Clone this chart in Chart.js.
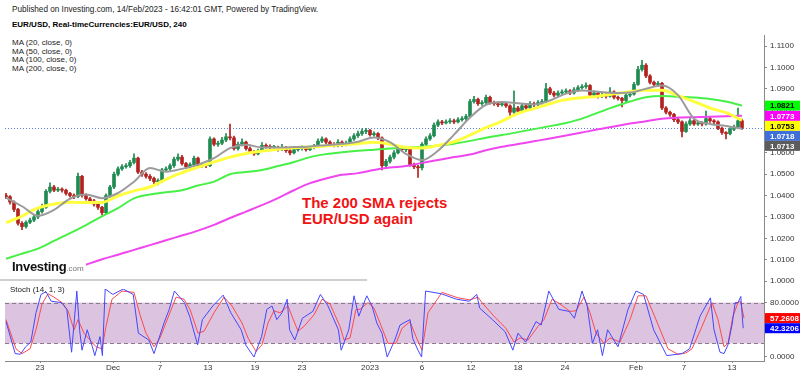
<!DOCTYPE html>
<html>
<head>
<meta charset="utf-8">
<script src="https://cdn.jsdelivr.net/npm/chart.js@4.4.1/dist/chart.umd.min.js"></script>
<style>
body{margin:0;background:#fff;width:800px;height:376px;overflow:hidden;position:relative;font-family:"Liberation Sans",Arial,sans-serif}
canvas{position:absolute;left:0;top:0}
.t{position:absolute;white-space:nowrap;color:#222}
</style>
</head>
<body>
<div class="t" style="left:12px;top:5px;font-size:8.2px">Published on Investing.com, 14/Feb/2023 - 16:42:01 GMT, Powered by TradingView.</div>
<div class="t" style="left:12px;top:20px;font-size:8px;font-weight:bold;color:#000">EUR/USD, Real-timeCurrencies:EUR/USD, 240</div>
<div class="t" style="left:12px;top:39px;font-size:8px;line-height:8.5px">MA (20, close, 0)<br>MA (50, close, 0)<br>MA (100, close, 0)<br>MA (200, close, 0)</div>
<div class="t" style="left:302px;top:195px;font-size:15px;line-height:16px;font-weight:bold;color:#f01414">The 200 SMA rejects<br>EUR/USD again</div>
<div style="position:absolute;left:0;top:279px;width:367px;height:2px;background:#cfcfcf"></div>
<canvas id="price" width="800" height="376"></canvas>
<canvas id="stoch" width="800" height="376"></canvas>
<div class="t" style="left:12px;top:259px;font-size:13px;font-weight:bold;color:#111;letter-spacing:-0.3px">Investing<span style="font-size:8px;font-weight:normal;color:#777;letter-spacing:0">.com</span></div>
<div class="t" style="left:10px;top:285px;font-size:8px">Stoch (14, 1, 3)</div>
<script>
// 4h EUR/USD, one candle per 8 hours (index = candle number)
const firstOpen = 1.0400;
const closes = [1.0395,1.0370,1.0335,1.0270,1.0255,1.0275,1.0285,1.0300,1.0325,1.0345,
1.0420,1.0440,1.0425,1.0430,1.0425,1.0410,1.0400,1.0395,1.0490,1.0400,
1.0385,1.0375,1.0360,1.0345,1.0320,1.0400,1.0440,1.0500,1.0525,1.0535,
1.0540,1.0555,1.0575,1.0510,1.0500,1.0490,1.0480,1.0465,1.0470,1.0520,
1.0525,1.0540,1.0570,1.0580,1.0550,1.0535,1.0545,1.0575,1.0540,1.0545,
1.0540,1.0665,1.0640,1.0645,1.0660,1.0675,1.0670,1.0620,1.0640,1.0650,
1.0620,1.0605,1.0595,1.0610,1.0635,1.0630,1.0625,1.0625,1.0615,1.0625,
1.0610,1.0600,1.0615,1.0620,1.0625,1.0615,1.0625,1.0630,1.0655,1.0665,
1.0650,1.0640,1.0635,1.0650,1.0640,1.0645,1.0665,1.0680,1.0690,1.0700,
1.0705,1.0685,1.0690,1.0670,1.0540,1.0560,1.0580,1.0600,1.0625,1.0615,
1.0620,1.0545,1.0535,1.0530,1.0640,1.0665,1.0680,1.0730,1.0745,1.0740,
1.0745,1.0750,1.0745,1.0755,1.0760,1.0770,1.0840,1.0850,1.0830,1.0835,
1.0860,1.0835,1.0830,1.0825,1.0830,1.0820,1.0790,1.0810,1.0795,1.0820,
1.0810,1.0830,1.0825,1.0835,1.0840,1.0900,1.0880,1.0870,1.0880,1.0885,
1.0890,1.0880,1.0895,1.0905,1.0910,1.0915,1.0870,1.0880,1.0865,1.0870,
1.0865,1.0885,1.0860,1.0855,1.0845,1.0870,1.0875,1.0920,1.0990,1.1010,
1.0960,1.0930,1.0920,1.0925,1.0810,1.0790,1.0780,1.0755,1.0745,1.0700,
1.0735,1.0750,1.0735,1.0740,1.0735,1.0760,1.0750,1.0745,1.0715,1.0695,
1.0690,1.0710,1.0720,1.0750,1.0718];
const highs = [1.0410,1.0400,1.0375,1.0340,1.0278,1.0282,1.0295,1.0310,1.0335,1.0360,
1.0428,1.0460,1.0448,1.0438,1.0436,1.0430,1.0415,1.0408,1.0505,1.0495,
1.0408,1.0392,1.0382,1.0368,1.0350,1.0408,1.0448,1.0510,1.0535,1.0545,
1.0550,1.0565,1.0595,1.0580,1.0518,1.0508,1.0498,1.0486,1.0478,1.0528,
1.0535,1.0548,1.0580,1.0595,1.0588,1.0556,1.0553,1.0585,1.0580,1.0553,
1.0550,1.0675,1.0670,1.0655,1.0672,1.0690,1.0735,1.0678,1.0650,1.0665,
1.0655,1.0628,1.0612,1.0618,1.0648,1.0642,1.0638,1.0635,1.0632,1.0640,
1.0630,1.0616,1.0622,1.0628,1.0633,1.0630,1.0632,1.0640,1.0665,1.0675,
1.0670,1.0656,1.0648,1.0662,1.0656,1.0655,1.0675,1.0690,1.0702,1.0712,
1.0715,1.0710,1.0698,1.0695,1.0675,1.0570,1.0590,1.0610,1.0635,1.0632,
1.0630,1.0625,1.0552,1.0542,1.0648,1.0675,1.0690,1.0740,1.0755,1.0752,
1.0755,1.0760,1.0758,1.0765,1.0770,1.0780,1.0850,1.0865,1.0856,1.0845,
1.0870,1.0866,1.0842,1.0838,1.0840,1.0836,1.0825,1.0890,1.0818,1.0830,
1.0828,1.0840,1.0838,1.0845,1.0850,1.0925,1.0908,1.0888,1.0890,1.0895,
1.0900,1.0896,1.0905,1.0915,1.0920,1.0928,1.0920,1.0890,1.0886,1.0880,
1.0878,1.0905,1.0890,1.0866,1.0860,1.0878,1.0885,1.0930,1.1005,1.1033,
1.1018,1.0966,1.0936,1.0935,1.0930,1.0816,1.0796,1.0785,1.0762,1.0750,
1.0745,1.0760,1.0756,1.0748,1.0746,1.0795,1.0768,1.0756,1.0750,1.0720,
1.0700,1.0718,1.0730,1.0810,1.0758];
const lows = [1.0385,1.0360,1.0325,1.0262,1.0240,1.0248,1.0268,1.0278,1.0292,1.0318,
1.0340,1.0412,1.0418,1.0418,1.0416,1.0402,1.0392,1.0385,1.0390,1.0392,
1.0378,1.0365,1.0350,1.0335,1.0310,1.0315,1.0392,1.0432,1.0492,1.0518,
1.0528,1.0532,1.0548,1.0502,1.0490,1.0482,1.0470,1.0456,1.0450,1.0462,
1.0512,1.0518,1.0532,1.0562,1.0542,1.0526,1.0528,1.0538,1.0532,1.0532,
1.0530,1.0535,1.0632,1.0630,1.0638,1.0652,1.0660,1.0612,1.0612,1.0632,
1.0612,1.0598,1.0588,1.0590,1.0605,1.0622,1.0618,1.0616,1.0608,1.0610,
1.0602,1.0590,1.0595,1.0608,1.0612,1.0608,1.0610,1.0618,1.0625,1.0648,
1.0642,1.0632,1.0628,1.0628,1.0630,1.0632,1.0640,1.0658,1.0672,1.0682,
1.0690,1.0678,1.0678,1.0662,1.0520,1.0530,1.0552,1.0572,1.0595,1.0606,
1.0606,1.0538,1.0526,1.0485,1.0520,1.0635,1.0658,1.0675,1.0722,1.0732,
1.0735,1.0738,1.0736,1.0740,1.0748,1.0752,1.0765,1.0832,1.0822,1.0822,
1.0828,1.0828,1.0822,1.0816,1.0818,1.0812,1.0775,1.0785,1.0786,1.0790,
1.0802,1.0805,1.0816,1.0818,1.0828,1.0835,1.0872,1.0862,1.0862,1.0872,
1.0878,1.0872,1.0875,1.0888,1.0898,1.0902,1.0862,1.0862,1.0856,1.0858,
1.0856,1.0860,1.0852,1.0846,1.0815,1.0840,1.0862,1.0870,1.0915,1.0982,
1.0952,1.0922,1.0912,1.0912,1.0802,1.0782,1.0770,1.0746,1.0736,1.0675,
1.0695,1.0728,1.0728,1.0728,1.0726,1.0730,1.0742,1.0736,1.0708,1.0686,
1.0665,1.0684,1.0704,1.0715,1.0710];

// moving averages read at every 4th candle
const maIdx = [0,4,8,12,16,20,24,28,32,36,40,44,48,52,56,60,64,68,72,76,80,84,88,92,96,100,
104,108,112,116,120,124,128,132,136,140,144,148,152,156,160,164,168,172,176,180,184];
const ma20 = [1.0390,1.0350,1.0305,1.0333,1.0385,1.0405,1.0388,1.0412,1.0465,1.0529,1.0512,1.0525,
1.0545,1.0575,1.0622,1.0638,1.0625,1.0625,1.0627,1.0630,1.0636,1.0642,1.0652,1.0672,1.0650,1.0595,
1.0566,1.0610,1.0685,1.0765,1.0825,1.0838,1.0832,1.0826,1.0845,1.0877,1.0892,1.0886,1.0880,1.0882,
1.0900,1.0915,1.0870,1.0760,1.0735,1.0726,1.0713];
const ma50 = [1.0273,1.0304,1.0342,1.0361,1.0369,1.0367,1.0368,1.0398,1.0422,1.0440,1.0476,1.0507,
1.0533,1.0557,1.0580,1.0597,1.0608,1.0617,1.0624,1.0627,1.0632,1.0638,1.0643,1.0649,1.0640,1.0625,
1.0623,1.0635,1.0652,1.0683,1.0718,1.0748,1.0785,1.0807,1.0830,1.0849,1.0858,1.0865,1.0876,1.0886,
1.0893,1.0893,1.0868,1.0840,1.0810,1.0788,1.0753];
const ma100 = [1.0104,1.0128,1.0152,1.0188,1.0224,1.0262,1.0303,1.0341,1.0387,1.0405,1.0415,1.0425,
1.0447,1.0465,1.0500,1.0510,1.0520,1.0538,1.0557,1.0580,1.0594,1.0603,1.0610,1.0615,1.0620,1.0624,
1.0628,1.0634,1.0643,1.0656,1.0671,1.0683,1.0697,1.0711,1.0725,1.0740,1.0760,1.0788,1.0815,1.0840,
1.0860,1.0866,1.0863,1.0859,1.0852,1.0840,1.0821];
const ma200 = [null,null,null,null,null,1.0076,1.0102,1.0123,1.0146,1.0168,1.0191,1.0213,
1.0236,1.0263,1.0295,1.0325,1.0355,1.0388,1.0425,1.0458,1.0480,1.0497,1.0505,1.0520,1.0531,1.0538,
1.0553,1.0566,1.0580,1.0592,1.0612,1.0628,1.0641,1.0654,1.0667,1.0681,1.0695,1.0710,1.0723,1.0737,
1.0748,1.0760,1.0765,1.0767,1.0769,1.0771,1.0773];

// stochastic (14,1,3): [candle, value]
const stochK = [[0,52],[2.3,5],[3.6,4],[4.9,15],[6.2,22],[7.5,65],[8.75,92],[10,96],[11.3,82],[13.9,80],
[15.2,70],[16.4,7],[17.7,97],[18.4,40],[19,10],[20.3,40],[21.6,15],[22.2,2],[23.5,30],[24.1,2],
[24.8,100],[26.7,92],[29.3,100],[31.8,92],[33.1,35],[35.7,25],[37,5],[39.5,50],[40.8,70],[42.1,97],
[44.6,80],[45.9,60],[47.9,18],[49.1,55],[51.7,75],[54.3,91],[56.2,65],[58.8,40],[60,17],[62,0],
[63.9,30],[65.2,70],[66.5,75],[67.7,55],[69,65],[70.3,85],[70.9,40],[72.2,25],[74.1,57],[76.7,67],
[78.6,92],[80.5,75],[83.1,40],[83.8,10],[85.7,40],[87,90],[88.2,60],[90.2,90],[91.5,75],[92.7,50],
[94,35],[95.3,0],[97.2,25],[98.5,47],[101,55],[101.7,27],[103,10],[103.9,0],[104.9,97],[108.8,93],
[112.6,85],[115.8,82],[117.7,92],[118.4,72],[121.6,55],[124.8,37],[126.7,10],[128,35],[129.9,22],[132.5,52],
[133.8,47],[135.7,97],[138.2,70],[140.8,67],[142.1,57],[144,97],[145.3,75],[146.6,20],[147.9,40],[149.1,2],
[150.4,40],[153,15],[155.5,70],[157.5,97],[159.4,92],[161.9,40],[165.2,2],[169,5],[170.9,12],[173.5,60],
[176.1,87],[177,40],[178.5,7],[179.5,5],[180.5,18],[181.5,47],[182.3,80],[183,80],[183.7,89],[184.3,42.3206]];
const stochD = [[0,55],[2.5,12],[4,5],[6,12],[7.5,40],[9,78],[10.5,93],[12,88],[14,80],[15.5,68],
[17,40],[18,55],[19.5,35],[21,25],[22.5,15],[24,12],[25,45],[26.5,85],[29,97],[32,95],
[33.5,62],[35,35],[37,15],[38.5,28],[40.5,58],[42.5,88],[44.5,85],[46,70],[48,35],[49.5,38],
[52,65],[54.5,88],[56.5,75],[59,50],[60.5,28],[62.5,8],[64,18],[65.5,50],[67,68],[68.5,65],
[70.5,75],[71.5,60],[73,38],[74.5,45],[77,62],[79,85],[81,78],[83.5,45],[84.5,25],[86,28],
[87.5,70],[88.5,70],[90.5,80],[92,72],[93.5,50],[95.5,20],[97.5,20],[99,42],[101,52],[102.5,30],
[104,10],[105.5,65],[109,95],[113,87],[116,84],[118,88],[119,80],[122,60],[125,42],[127,22],
[128.5,28],[130.5,25],[133,45],[134.5,55],[136.5,85],[138.5,78],[141,67],[142.5,68],[144.5,88],[146,65],
[147.5,35],[149.5,20],[151,28],[153.5,22],[156,55],[158,90],[160,90],[162.5,55],[165.5,12],[168,4],
[170,6],[171.5,12],[174,45],[176.5,80],[178,55],[179.5,15],[180.5,20],[181.7,59],[183,80],[183.6,82],
[184.5,57.2608]];

const priceTicks = [1.00,1.01,1.02,1.03,1.04,1.05,1.06,1.07,1.08,1.09,1.10,1.11];
const stochTicks = [0,40,80];
const dateTicks = [8.5,26.75,38.5,50.5,62.25,74,91,104,116.25,128,139.75,157.5,169.5,181.5];
const dateLabels = ['23','Dec','7','13','19','23','2023','6','12','18','24','Feb','7','13'];

Chart.defaults.font.family = '"Liberation Sans", Arial, sans-serif';
Chart.defaults.font.size = 8;
Chart.defaults.color = '#333';

const opens = closes.map((c, i) => i ? closes[i - 1] : firstOpen);
const candleColors = closes.map((c, i) => c >= opens[i] ? '#1e8a50' : '#b3221e');
const pts = (arr) => arr.map((v, i) => ({x: maIdx[i], y: v}));
const pairs = (arr) => arr.map(([x, y]) => ({x, y}));

function drawBoxes(chart, items, scale) {
  const ctx = chart.ctx;
  const list = items.map(it => ({...it, y: scale.getPixelForValue(it.v)})).sort((a, b) => a.y - b.y);
  for (let i = 1; i < list.length; i++) {
    if (list[i].y < list[i - 1].y + 10) list[i].y = list[i - 1].y + 10;
  }
  ctx.save();
  ctx.font = 'bold 8px "Liberation Sans", Arial, sans-serif';
  ctx.textBaseline = 'middle';
  list.forEach(it => {
    ctx.fillStyle = it.bg;
    ctx.fillRect(scale.left + 1, it.y - 5, 36, 10);
    ctx.fillStyle = it.fg;
    ctx.fillText(it.v.toFixed(4), scale.left + 6, it.y + 0.5);
  });
  ctx.restore();
}

const priceExtras = {
  id: 'priceExtras',
  beforeDatasetsDraw(chart) {
    const {ctx, chartArea} = chart;
    const y = chart.scales.y.getPixelForValue(closes[closes.length - 1]);
    ctx.save();
    ctx.strokeStyle = '#5b7fd9';
    ctx.setLineDash([1, 2]);
    ctx.lineWidth = 1;
    ctx.beginPath();
    ctx.moveTo(chartArea.left, Math.round(y) + 0.5);
    ctx.lineTo(chartArea.right, Math.round(y) + 0.5);
    ctx.stroke();
    ctx.restore();
  },
  afterDraw(chart) {
    drawBoxes(chart, [
      {v: ma100[ma100.length - 1], bg: '#00ff00', fg: '#000'},
      {v: ma200[ma200.length - 1], bg: '#ff00ff', fg: '#fff'},
      {v: ma50[ma50.length - 1], bg: '#ffff00', fg: '#000'},
      {v: closes[closes.length - 1], bg: '#3f6fd8', fg: '#fff'},
      {v: ma20[ma20.length - 1], bg: '#5c5c5c', fg: '#fff'}
    ], chart.scales.y);
  }
};

const stochExtras = {
  id: 'stochExtras',
  beforeDatasetsDraw(chart) {
    const {ctx, chartArea, scales: {y}} = chart;
    const y80 = y.getPixelForValue(80), y20 = y.getPixelForValue(20);
    ctx.save();
    ctx.fillStyle = '#dcc3df';
    ctx.fillRect(chartArea.left, y80, chartArea.right - chartArea.left, y20 - y80);
    ctx.strokeStyle = '#8a7a8a';
    ctx.setLineDash([4, 3]);
    ctx.lineWidth = 1;
    [y80, y20].forEach(p => {
      ctx.beginPath();
      ctx.moveTo(chartArea.left, Math.round(p) + 0.5);
      ctx.lineTo(chartArea.right, Math.round(p) + 0.5);
      ctx.stroke();
    });
    ctx.restore();
  },
  afterDraw(chart) {
    drawBoxes(chart, [
      {v: stochD[stochD.length - 1][1], bg: '#ff0000', fg: '#fff'},
      {v: stochK[stochK.length - 1][1], bg: '#0000ff', fg: '#fff'}
    ], chart.scales.y);
  }
};

const maLine = (data, color, width) => ({
  type: 'line', data: pts(data), borderColor: color, borderWidth: width,
  pointRadius: 0, cubicInterpolationMode: 'monotone', spanGaps: false, order: 0
});

new Chart(document.getElementById('price'), {
  type: 'bar',
  data: {
    datasets: [
      maLine(ma20, '#9b9b9b', 2),
      maLine(ma50, '#ffff40', 3),
      maLine(ma100, '#46f046', 2),
      maLine(ma200, '#f046f0', 2),
      {
        type: 'bar', data: closes.map((c, i) => ({x: i, y: [opens[i], c]})),
        backgroundColor: candleColors, barThickness: 3, minBarLength: 1, grouped: false, order: 1
      },
      {
        type: 'bar', data: closes.map((c, i) => ({x: i, y: [lows[i], highs[i]]})),
        backgroundColor: candleColors, barThickness: 1, grouped: false, order: 2
      }
    ]
  },
  options: {
    responsive: false,
    animation: false,
    layout: {padding: {left: 5, top: 35, right: 0, bottom: 88}},
    plugins: {legend: {display: false}, tooltip: {enabled: false}},
    scales: {
      x: {type: 'linear', min: -0.25, max: 189.5, offset: false, display: false},
      y: {
        position: 'right', min: 0.99674, max: 1.11515,
        afterFit(s) { s.width = 36; },
        afterBuildTicks(s) { s.ticks = priceTicks.map(v => ({value: v})); },
        ticks: {padding: 3, color: '#333', callback: v => Number(v).toFixed(4)},
        grid: {drawOnChartArea: false, tickLength: 3, color: '#888'},
        border: {color: '#888'}
      }
    }
  },
  plugins: [priceExtras]
});

new Chart(document.getElementById('stoch'), {
  type: 'line',
  data: {
    datasets: [
      {data: pairs(stochK), borderColor: '#4646ff', borderWidth: 1, pointRadius: 0, tension: 0},
      {data: pairs(stochD), borderColor: '#ff4a4a', borderWidth: 1, pointRadius: 0, tension: 0}
    ]
  },
  options: {
    responsive: false,
    animation: false,
    layout: {padding: {left: 5, top: 289, right: 0, bottom: 0}},
    plugins: {legend: {display: false}, tooltip: {enabled: false}},
    scales: {
      x: {
        type: 'linear', min: -0.25, max: 189.5,
        afterFit(s) { s.height = 15; },
        afterBuildTicks(s) { s.ticks = dateTicks.map(v => ({value: v})); },
        ticks: {autoSkip: false, maxRotation: 0, padding: 0, color: '#333', callback: (v, i) => dateLabels[i]},
        grid: {drawOnChartArea: false, tickLength: 2, color: '#888'},
        border: {color: '#888'}
      },
      y: {
        position: 'right', min: -5.9, max: 100,
        afterFit(s) { s.width = 36; },
        afterBuildTicks(s) { s.ticks = stochTicks.map(v => ({value: v})); },
        ticks: {padding: 3, color: '#333', callback: v => Number(v).toFixed(4)},
        grid: {drawOnChartArea: false, tickLength: 3, color: '#888'},
        border: {color: '#888'}
      }
    }
  },
  plugins: [stochExtras]
});
</script>
</body>
</html>
